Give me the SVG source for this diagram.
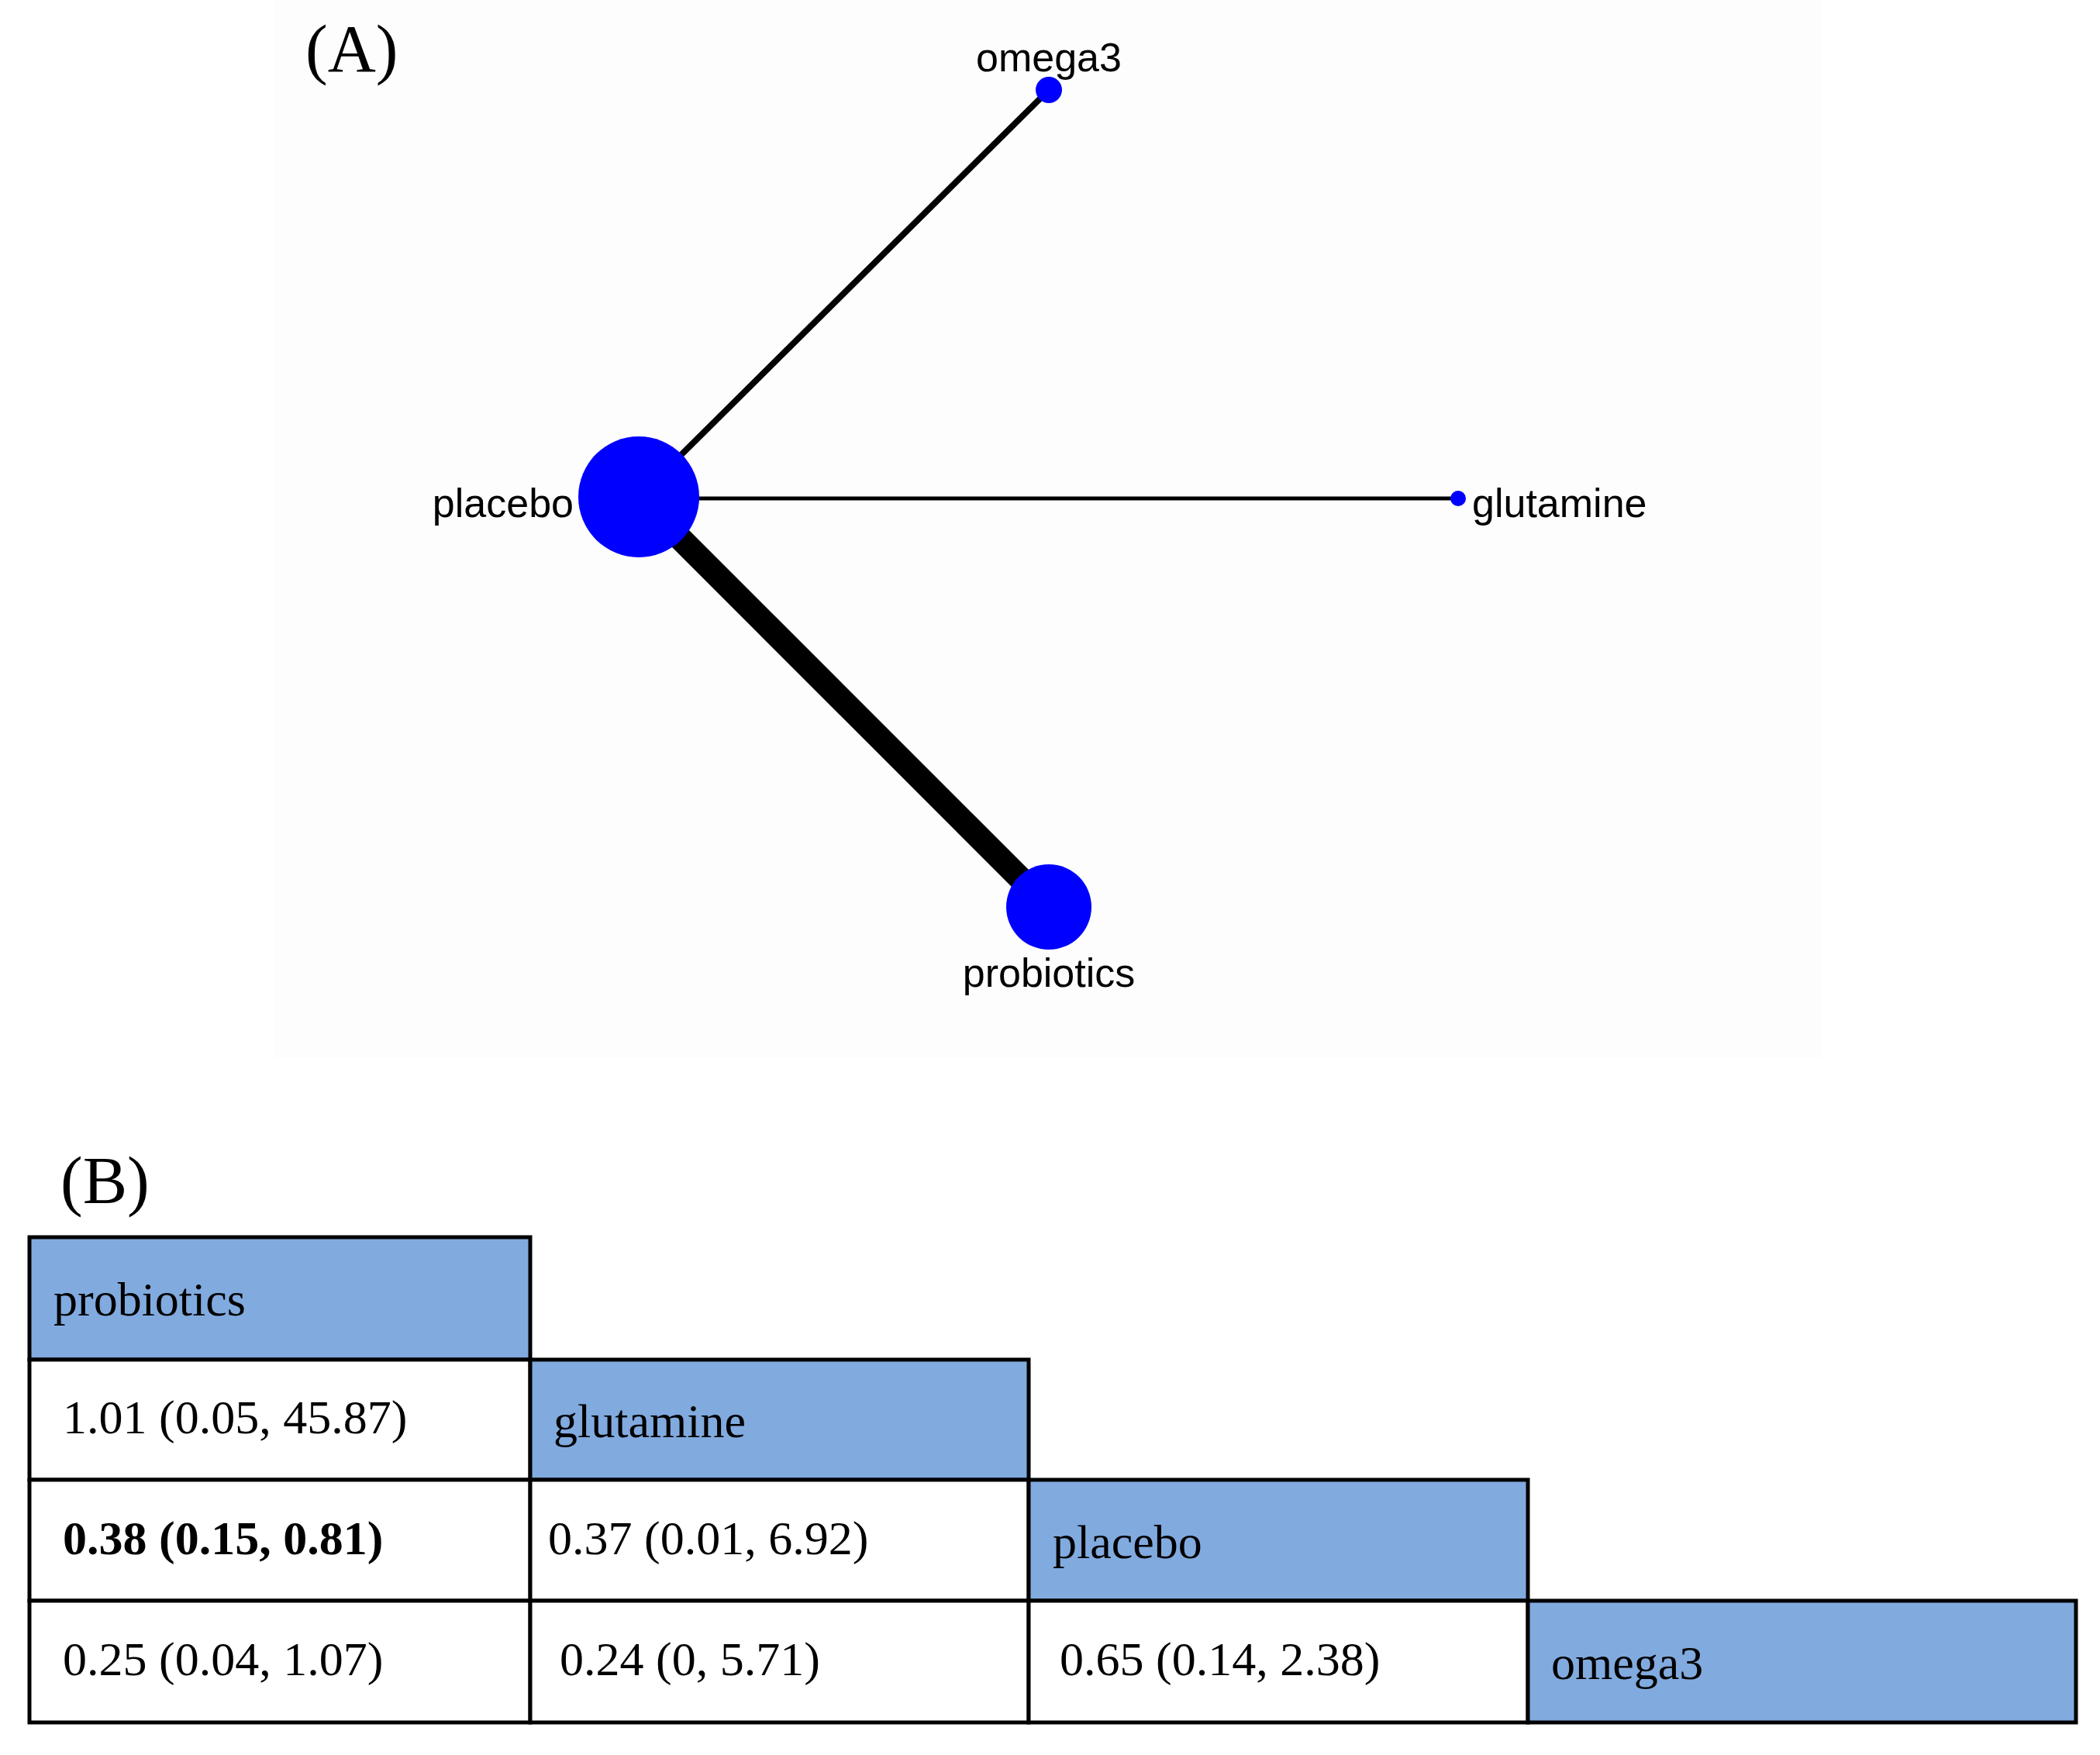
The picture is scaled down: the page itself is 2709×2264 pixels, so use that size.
<svg xmlns="http://www.w3.org/2000/svg" width="2709" height="2264" viewBox="0 0 2709 2264">
<style>
.lbl{font-family:"Liberation Serif",serif;font-size:86px;fill:#000}
.nl{font-family:"Liberation Sans",Arial,sans-serif;font-size:52px;fill:#000}
.node{fill:#0000ff}
.edge{stroke:#000;stroke-linecap:butt}
.hdr{fill:#81aadf;stroke:#000;stroke-width:5}
.cell{fill:#fff;stroke:#000;stroke-width:5}
.t{font-family:"Liberation Serif",serif;font-size:62px;fill:#000}
</style>
<rect width="2709" height="2264" fill="#fff"/>
<rect x="354" y="0" width="1996" height="1365" fill="#fdfdfd"/>
<text class="lbl" x="394" y="92">(A)</text>
<g id="connectors">
<line class="edge" x1="824" y1="641" x2="1353" y2="116" stroke-width="8"/>
<line class="edge" x1="824" y1="643" x2="1881" y2="643" stroke-width="5"/>
<line class="edge" x1="824" y1="641" x2="1353" y2="1170" stroke-width="31"/>
</g>
<g id="omega3"><circle class="node" cx="1353" cy="116" r="17"/><text class="nl" x="1353" y="92" text-anchor="middle">omega3</text></g>
<g id="placebo"><circle class="node" cx="824" cy="641" r="78"/><text class="nl" x="740" y="667" text-anchor="end">placebo</text></g>
<g id="glutamine"><circle class="node" cx="1881" cy="643" r="10"/><text class="nl" x="1899" y="667">glutamine</text></g>
<g id="probiotics"><circle class="node" cx="1353" cy="1170" r="55"/><text class="nl" x="1353" y="1273" text-anchor="middle">probiotics</text></g>
<text class="lbl" x="78" y="1552">(B)</text>
<g id="table">
<rect class="hdr" x="38" y="1596" width="646" height="158"/>
<rect class="cell" x="38" y="1754" width="646" height="155"/>
<rect class="hdr" x="684" y="1754" width="643" height="155"/>
<rect class="cell" x="38" y="1909" width="646" height="156"/>
<rect class="cell" x="684" y="1909" width="643" height="156"/>
<rect class="hdr" x="1327" y="1909" width="644" height="156"/>
<rect class="cell" x="38" y="2065" width="646" height="157"/>
<rect class="cell" x="684" y="2065" width="643" height="157"/>
<rect class="cell" x="1327" y="2065" width="644" height="157"/>
<rect class="hdr" x="1971" y="2065" width="707" height="157"/>
<text class="t" x="69" y="1697">probiotics</text>
<text class="t" x="81" y="1849">1.01 (0.05, 45.87)</text>
<text class="t" x="714" y="1854">glutamine</text>
<text class="t" x="81" y="2005" font-weight="bold">0.38 (0.15, 0.81)</text>
<text class="t" x="707" y="2005">0.37 (0.01, 6.92)</text>
<text class="t" x="1358" y="2010">placebo</text>
<text class="t" x="81" y="2161">0.25 (0.04, 1.07)</text>
<text class="t" x="722" y="2161">0.24 (0, 5.71)</text>
<text class="t" x="1367" y="2161">0.65 (0.14, 2.38)</text>
<text class="t" x="2001" y="2166">omega3</text>
</g>
</svg>
